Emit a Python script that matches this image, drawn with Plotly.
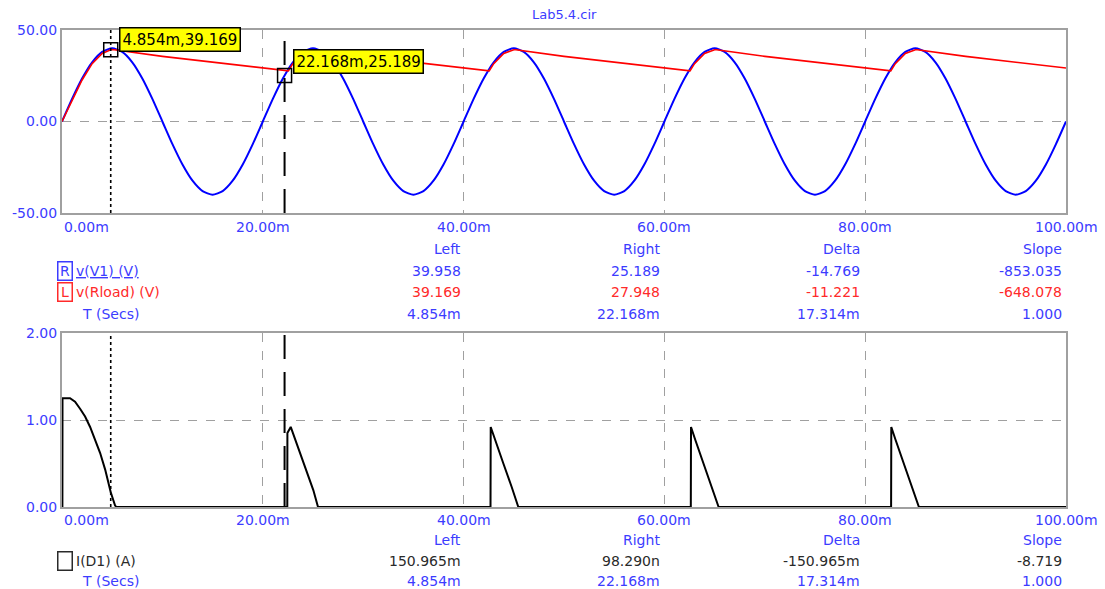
import plotly.graph_objects as go

W, H = 1105, 589

# ---------------- data ----------------
# time grid for source voltage (ms)
t_v1_ms = list(range(0, 101))
# v(V1) read at 1 ms steps
v_v1 = [
    0.0, 12.36, 23.51, 32.36, 38.04, 40.0, 38.04, 32.36, 23.51, 12.36,
    0.0, -12.36, -23.51, -32.36, -38.04, -40.0, -38.04, -32.36, -23.51, -12.36,
    0.0, 12.36, 23.51, 32.36, 38.04, 40.0, 38.04, 32.36, 23.51, 12.36,
    0.0, -12.36, -23.51, -32.36, -38.04, -40.0, -38.04, -32.36, -23.51, -12.36,
    0.0, 12.36, 23.51, 32.36, 38.04, 40.0, 38.04, 32.36, 23.51, 12.36,
    0.0, -12.36, -23.51, -32.36, -38.04, -40.0, -38.04, -32.36, -23.51, -12.36,
    0.0, 12.36, 23.51, 32.36, 38.04, 40.0, 38.04, 32.36, 23.51, 12.36,
    0.0, -12.36, -23.51, -32.36, -38.04, -40.0, -38.04, -32.36, -23.51, -12.36,
    0.0, 12.36, 23.51, 32.36, 38.04, 40.0, 38.04, 32.36, 23.51, 12.36,
    0.0, -12.36, -23.51, -32.36, -38.04, -40.0, -38.04, -32.36, -23.51, -12.36,
    0.0,
]

# v(Rload)
t_rload_ms = [0, 1, 2, 3, 4, 4.854, 5.2, 10, 15, 20, 22.168, 22.55,
              23, 24, 25, 25.2, 30, 35, 40, 42.55,
              43, 44, 45, 45.2, 50, 55, 60, 62.55,
              63, 64, 65, 65.2, 70, 75, 80, 82.55,
              83, 84, 85, 85.2, 90, 95, 100]
v_rload = [0.0, 11.6, 22.7, 31.6, 37.2, 39.169, 39.2, 35.6, 32.3, 29.2, 27.948, 27.7,
           31.6, 37.2, 39.2, 39.2, 35.6, 32.3, 29.2, 27.7,
           31.6, 37.2, 39.2, 39.2, 35.6, 32.3, 29.2, 27.7,
           31.6, 37.2, 39.2, 39.2, 35.6, 32.3, 29.2, 27.7,
           31.6, 37.2, 39.2, 39.2, 35.6, 32.3, 29.2]

# I(D1)
t_id1_ms = [0.04, 0.05, 0.8, 1.3, 1.8, 2.3, 2.8, 3.3, 3.8, 4.3, 4.854, 5.28, 5.4,
            22.44, 22.45, 22.78, 23.37, 24.2, 25.03, 25.5,
            42.68, 42.7, 43.13, 43.96, 44.79, 45.45,
            62.63, 62.65, 63.08, 63.91, 64.74, 65.4,
            82.58, 82.6, 83.03, 83.86, 84.69, 85.35, 100]
i_id1 = [0.0, 1.25, 1.25, 1.21, 1.13, 1.04, 0.92, 0.78, 0.62, 0.43, 0.17, 0.02, 0.0,
         0.0, 0.85, 0.92, 0.73, 0.46, 0.195, 0.0,
         0.0, 0.92, 0.77, 0.50, 0.23, 0.0,
         0.0, 0.92, 0.77, 0.50, 0.23, 0.0,
         0.0, 0.92, 0.77, 0.50, 0.23, 0.0, 0.0]

# cursors
cursor_t_ms = [4.854, 22.168]
cursor_v1 = [39.958, 25.189]
cursor_label_y = [39.169, 25.189]
cursor_labels = ["4.854m,39.169", "22.168m,25.189"]

# tick labels
x_tick_vals = [0, 20, 40, 60, 80, 100]
x_tick_text = ["0.00m", "20.00m", "40.00m", "60.00m", "80.00m", "100.00m"]
y1_tick_vals = [-50, 0, 50]
y1_tick_text = ["-50.00", "0.00", "50.00"]
y2_tick_vals = [0, 1, 2]
y2_tick_text = ["0.00", "1.00", "2.00"]

# readouts
col_headers = ["Left", "Right", "Delta", "Slope"]
v1_vals = ["39.958", "25.189", "-14.769", "-853.035"]
rload_vals = ["39.169", "27.948", "-11.221", "-648.078"]
t_vals = ["4.854m", "22.168m", "17.314m", "1.000"]
id1_vals = ["150.965m", "98.290n", "-150.965m", "-8.719"]

# ---------------- styling ----------------
BLUE_T = "#3c3cff"
RED_T = "#ff2a2a"
DARK_T = "#2a2a2a"
FONT = "DejaVu Sans"
FS = 14
FRAME = "#a0a0a0"
GRID = "#a0a0a0"

X0, X1 = 62, 1066
TOP_Y0, TOP_Y1 = 30, 213
BOT_Y0, BOT_Y1 = 333, 507


def px(x):
    return x / W


def py(y):
    return 1 - y / H


fig = go.Figure()

fig.add_trace(go.Scatter(x=t_v1_ms, y=v_v1, mode="lines", line=dict(color="#0000ff", width=2, shape="spline", smoothing=0.6),
                         xaxis="x", yaxis="y", showlegend=False))
fig.add_trace(go.Scatter(x=t_rload_ms, y=v_rload, mode="lines", line=dict(color="#ff0000", width=1.6),
                         xaxis="x", yaxis="y", showlegend=False))
fig.add_trace(go.Scatter(x=t_id1_ms, y=i_id1, mode="lines", line=dict(color="#000000", width=2),
                         xaxis="x2", yaxis="y2", showlegend=False))
# cursor boxes
fig.add_trace(go.Scatter(x=cursor_t_ms, y=cursor_label_y, mode="markers",
                         marker=dict(symbol="square-open", size=14, color="#000000", line=dict(width=1.5)),
                         xaxis="x", yaxis="y", showlegend=False))

axis_common = dict(showline=True, mirror=True, linecolor=FRAME, linewidth=2, zeroline=False,
                   showgrid=True, gridcolor=GRID, griddash="dash", gridwidth=1, ticks="",
                   automargin=False)

fig.update_layout(
    width=W, height=H, template="none",
    margin=dict(l=0, r=0, t=0, b=0, pad=0),
    paper_bgcolor="white", plot_bgcolor="white",
    font=dict(family=FONT, size=FS, color=BLUE_T),
    xaxis=dict(domain=[px(X0), px(X1)], range=[0, 100], tickvals=[20, 40, 60, 80],
               showticklabels=False, anchor="y", **axis_common),
    yaxis=dict(domain=[py(TOP_Y1), py(TOP_Y0)], range=[-50, 50], tickvals=y1_tick_vals,
               ticktext=y1_tick_text, tickfont=dict(color=BLUE_T, size=FS, family=FONT),
               anchor="x", **axis_common),
    xaxis2=dict(domain=[px(X0), px(X1)], range=[0, 100], tickvals=[20, 40, 60, 80],
                showticklabels=False, anchor="y2", **axis_common),
    yaxis2=dict(domain=[py(BOT_Y1), py(BOT_Y0)], range=[0, 2], tickvals=y2_tick_vals,
                ticktext=y2_tick_text, tickfont=dict(color=BLUE_T, size=FS, family=FONT),
                anchor="x2", **axis_common),
)

shapes = []
dashes = [("3px,3px", 1.6), ("24px,13px", 2)]
for xa, ya in (("x", "y domain"), ("x2", "y2 domain")):
    for t, (d, wd) in zip(cursor_t_ms, dashes):
        shapes.append(dict(type="line", xref=xa, yref=ya, x0=t, x1=t, y0=0, y1=1,
                           line=dict(color="#000000", width=wd, dash=d)))
fig.update_layout(shapes=shapes)

ann = []
# title
ann.append(dict(text="Lab5.4.cir", x=px((X0 + X1) / 2), y=py(14), xref="paper", yref="paper",
                showarrow=False, font=dict(color=BLUE_T, size=13, family=FONT), xanchor="center", yanchor="middle"))
# x tick labels
for xa, ylab in (("x", 227), ("x2", 520)):
    for v, t in zip(x_tick_vals, x_tick_text):
        ann.append(dict(text=t, x=v, xref=xa, y=py(ylab), yref="paper", showarrow=False,
                        xanchor="left" if v == 0 else "center", yanchor="middle",
                        font=dict(color=BLUE_T, size=FS, family=FONT)))
# cursor labels
shifts = [(8, 10), (8, 14)]
for t, yv, lab, (xs, ys) in zip(cursor_t_ms, cursor_label_y, cursor_labels, shifts):
    ann.append(dict(text=lab, x=t, y=yv, xref="x", yref="y", showarrow=False,
                    xanchor="left", yanchor="middle", xshift=xs, yshift=ys,
                    bgcolor="#ffff00", bordercolor="#000000", borderwidth=1.5, borderpad=2,
                    font=dict(color="#000000", size=15, family=FONT)))

col_x = [463, 662, 862, 1064]


def row(vals, y, color):
    for cx, v in zip(col_x, vals):
        ann.append(dict(text=v, x=px(cx), y=py(y), xref="paper", yref="paper", showarrow=False,
                        xanchor="right", yanchor="middle", font=dict(color=color, size=FS, family=FONT)))


def label(text, x, y, color, box=None, boxcolor=None):
    if box is not None:
        ann.append(dict(text=box, x=px(x), y=py(y), xref="paper", yref="paper", showarrow=False,
                        xanchor="left", yanchor="middle", bordercolor=boxcolor, borderwidth=1.5, borderpad=0,
                        width=13, height=17, font=dict(color=color, size=FS, family=FONT)))
    ann.append(dict(text=text, x=px(x + 17 if box is not None else x), y=py(y), xref="paper", yref="paper",
                    showarrow=False, xanchor="left", yanchor="middle",
                    font=dict(color=color, size=FS, family=FONT)))


# top readouts
row(col_headers, 249, BLUE_T)
row(v1_vals, 271, BLUE_T)
row(rload_vals, 292, RED_T)
row(t_vals, 314, BLUE_T)
label("<u>v(V1) (V)</u>", 57, 271, BLUE_T, box="R", boxcolor=BLUE_T)
label("v(Rload) (V)", 57, 292, RED_T, box="L", boxcolor=RED_T)
label("T (Secs)", 80, 314, BLUE_T)

# bottom readouts
row(col_headers, 540, BLUE_T)
row(id1_vals, 561, DARK_T)
row(t_vals, 581, BLUE_T)
label("I(D1) (A)", 57, 561, DARK_T, box=" ", boxcolor=DARK_T)
label("T (Secs)", 80, 581, BLUE_T)

fig.update_layout(annotations=ann)

fig.write_html("out.html", config={"displayModeBar": False},
               post_script="document.body.style.margin='0';document.body.style.overflow='hidden';")
